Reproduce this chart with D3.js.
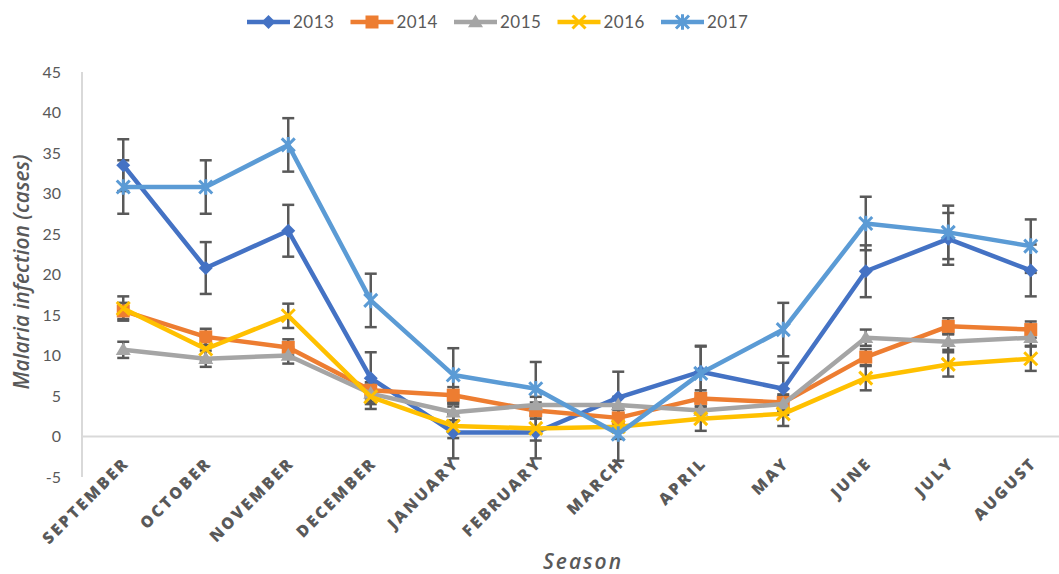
<!DOCTYPE html>
<html>
<head>
<meta charset="utf-8">
<script src="https://cdn.jsdelivr.net/npm/d3@7"></script>
<style>
  body { margin: 0; background: #fff; }
  text { font-family: Lato, "Open Sans", sans-serif; fill: #595959; }
</style>
</head>
<body>
<div id="chart"></div>
<script>
const months = ["SEPTEMBER", "OCTOBER", "NOVEMBER", "DECEMBER", "JANUARY", "FEBRUARY",
  "MARCH", "APRIL", "MAY", "JUNE", "JULY", "AUGUST"];
const years = ["2013", "2014", "2015", "2016", "2017"];
const values2013 = [33.5, 20.8, 25.4, 7.2, 0.5, 0.5, 4.8, 8.0, 5.9, 20.4, 24.4, 20.5];
const values2014 = [15.5, 12.3, 11.0, 5.7, 5.1, 3.2, 2.3, 4.7, 4.2, 9.8, 13.6, 13.2];
const values2015 = [10.7, 9.6, 10.0, 5.3, 3.0, 3.9, 3.9, 3.2, 4.0, 12.2, 11.7, 12.2];
const values2016 = [15.8, 10.8, 14.9, 4.9, 1.3, 1.0, 1.2, 2.2, 2.8, 7.2, 8.9, 9.6];
const values2017 = [30.8, 30.8, 36.0, 16.8, 7.6, 5.9, 0.3, 7.8, 13.2, 26.3, 25.2, 23.5];
const errors = [3.2, 1.0, 1.0, 1.5, 3.3];
const yTicks = [-5, 0, 5, 10, 15, 20, 25, 30, 35, 40, 45];

const colors = ["#4472C4", "#ED7D31", "#A5A5A5", "#FFC000", "#5B9BD5"];
const shapes = ["diamond", "square", "triangle", "x", "star"];

const series = [values2013, values2014, values2015, values2016, values2017].map((vals, i) => ({
  name: years[i], values: vals, err: errors[i], color: colors[i], shape: shapes[i]
}));

const width = 1059, height = 574;
const svg = d3.select("#chart").append("svg")
  .attr("width", width).attr("height", height);

const plotLeft = 82, plotRight = 1072;
const x = d3.scaleBand().domain(months).range([plotLeft, plotRight]);
const cx = (m) => x(m) + x.bandwidth() / 2;
const y = d3.scaleLinear().domain([-5, 45]).range([477, 72]);

// axes
svg.append("line")
  .attr("x1", plotLeft).attr("x2", plotLeft)
  .attr("y1", y(45)).attr("y2", y(-5))
  .attr("stroke", "#d9d9d9").attr("stroke-width", 2);
svg.append("line")
  .attr("x1", plotLeft).attr("x2", width)
  .attr("y1", y(0)).attr("y2", y(0))
  .attr("stroke", "#d9d9d9").attr("stroke-width", 2);

svg.selectAll(".ytick").data(yTicks).enter().append("text")
  .attr("x", 61).attr("y", (d) => y(d))
  .attr("dy", "0.35em").attr("text-anchor", "end")
  .style("font-size", "16px")
  .text((d) => d);

svg.selectAll(".xtick").data(months).enter().append("text")
  .attr("transform", (d) => `translate(${cx(d) + 3},${y(-5) - 17}) rotate(-45)`)
  .attr("text-anchor", "end")
  .attr("dy", "0.35em")
  .style("font-family", "'Open Sans', sans-serif")
  .style("font-size", "16px")
  .style("font-weight", "800")
  .style("letter-spacing", "2.5px")
  .text((d) => d);

svg.append("text")
  .attr("transform", `translate(29,272) rotate(-90)`)
  .attr("text-anchor", "middle")
  .style("font-family", "'Open Sans', sans-serif")
  .style("font-size", "21px").style("font-style", "italic").style("font-weight", "600")
  .text("Malaria infection (cases)");

svg.append("text")
  .attr("x", 583).attr("y", 569)
  .attr("text-anchor", "middle")
  .style("font-family", "'Open Sans', sans-serif")
  .style("font-size", "21px").style("font-style", "italic").style("font-weight", "600")
  .style("letter-spacing", "2px")
  .text("Season");

// error bars
series.forEach((s) => {
  const g = svg.append("g");
  s.values.forEach((v, i) => {
    const px = cx(months[i]);
    g.append("line").attr("x1", px).attr("x2", px)
      .attr("y1", y(v + s.err)).attr("y2", y(v - s.err));
    [v + s.err, v - s.err].forEach((e) => {
      g.append("line").attr("x1", px - 6).attr("x2", px + 6)
        .attr("y1", y(e)).attr("y2", y(e));
    });
  });
  g.attr("stroke", "#595959").attr("stroke-width", 2.5);
});

function marker(g, shape, color, px, py) {
  if (shape === "diamond") {
    const r = 7;
    g.append("path").attr("d", `M${px},${py - r}L${px + r},${py}L${px},${py + r}L${px - r},${py}Z`)
      .attr("fill", color);
  } else if (shape === "square") {
    const r = 6.5;
    g.append("rect").attr("x", px - r).attr("y", py - r).attr("width", 2 * r).attr("height", 2 * r)
      .attr("fill", color);
  } else if (shape === "triangle") {
    const r = 7.5;
    g.append("path").attr("d", `M${px},${py - r}L${px + r},${py + r * 0.7}L${px - r},${py + r * 0.7}Z`)
      .attr("fill", color);
  } else if (shape === "x") {
    const r = 6.5;
    g.append("path").attr("d", `M${px - r},${py - r}L${px + r},${py + r}M${px - r},${py + r}L${px + r},${py - r}`)
      .attr("stroke", color).attr("stroke-width", 3);
  } else {
    const r = 6.5;
    g.append("path").attr("d", `M${px - r},${py - r}L${px + r},${py + r}M${px - r},${py + r}L${px + r},${py - r}M${px},${py - r * 1.2}L${px},${py + r * 1.2}`)
      .attr("stroke", color).attr("stroke-width", 3);
  }
}

const line = d3.line()
  .x((d, i) => cx(months[i]))
  .y((d) => y(d));

series.forEach((s) => {
  const g = svg.append("g");
  g.append("path").datum(s.values)
    .attr("d", line)
    .attr("fill", "none")
    .attr("stroke", s.color)
    .attr("stroke-width", 4.5)
    .attr("stroke-linejoin", "round");
  s.values.forEach((v, i) => marker(g, s.shape, s.color, cx(months[i]), y(v)));
});

// legend
const legend = svg.append("g");
series.forEach((s, i) => {
  const lx = 247 + i * 103.5, ly = 22;
  legend.append("line").attr("x1", lx).attr("x2", lx + 43)
    .attr("y1", ly).attr("y2", ly)
    .attr("stroke", s.color).attr("stroke-width", 4.5);
  marker(legend, s.shape, s.color, lx + 21.5, ly);
  legend.append("text").attr("x", lx + 46).attr("y", ly)
    .attr("dy", "0.35em")
    .style("font-size", "17px")
    .style("letter-spacing", "0.5px")
    .text(s.name);
});
</script>
</body>
</html>
